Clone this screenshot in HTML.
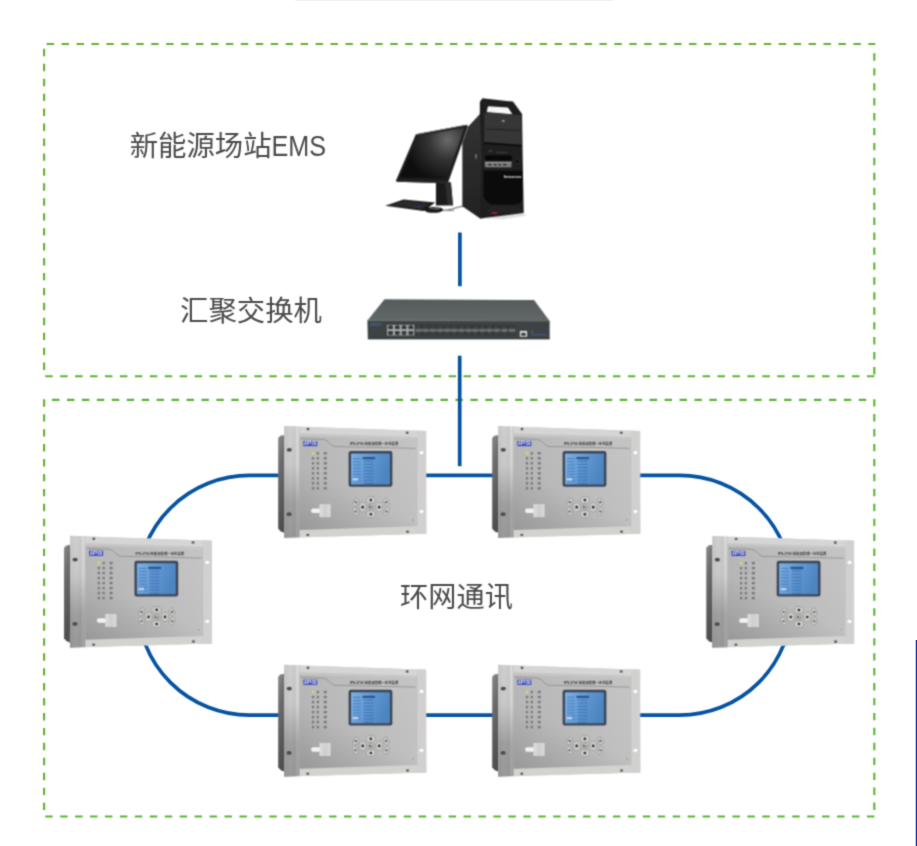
<!DOCTYPE html>
<html lang="zh-CN">
<head>
<meta charset="utf-8">
<title>新能源场站EMS 环网通讯</title>
<style>
html,body{margin:0;padding:0;background:#fff;}
body{width:917px;height:846px;overflow:hidden;position:relative;font-family:"Liberation Sans","Noto Sans CJK SC",sans-serif;}
svg{position:absolute;left:0;top:0;display:block;}
.lbl{font-family:"Liberation Sans","Noto Sans CJK SC",sans-serif;font-size:28.7px;font-weight:400;fill:#4b4b4b;}
</style>
</head>
<body>
<svg width="917" height="846" viewBox="0 0 917 846">
<defs>

<filter id="soft0" x="-3%" y="-3%" width="106%" height="106%" color-interpolation-filters="sRGB"><feConvolveMatrix order="3" kernelMatrix="0.0256 0.1088 0.0256 0.1088 0.4624 0.1088 0.0256 0.1088 0.0256" divisor="1" edgeMode="none" preserveAlpha="false"/></filter>
<filter id="soft" x="-3%" y="-3%" width="106%" height="106%" color-interpolation-filters="sRGB"><feConvolveMatrix order="3" kernelMatrix="0.0625 0.1250 0.0625 0.1250 0.2500 0.1250 0.0625 0.1250 0.0625" divisor="1" edgeMode="none" preserveAlpha="false"/></filter>
<filter id="soft2" x="-3%" y="-3%" width="106%" height="106%" color-interpolation-filters="sRGB"><feConvolveMatrix order="3" kernelMatrix="0.0484 0.1232 0.0484 0.1232 0.3136 0.1232 0.0484 0.1232 0.0484" divisor="1" edgeMode="none" preserveAlpha="false"/></filter>
<radialGradient id="scr" gradientUnits="userSpaceOnUse" cx="520" cy="230" r="330">
<stop offset="0" stop-color="#6a6a6a"/><stop offset="0.45" stop-color="#333"/><stop offset="1" stop-color="#0e0e0e"/>
</radialGradient>
<linearGradient id="tside" x1="0" y1="0" x2="0" y2="1">
<stop offset="0" stop-color="#363636"/><stop offset="0.5" stop-color="#2b2b2b"/><stop offset="1" stop-color="#222"/>
</linearGradient>
<linearGradient id="swtop" x1="0" y1="0" x2="0" y2="1">
<stop offset="0" stop-color="#555b5c"/><stop offset="1" stop-color="#626868"/>
</linearGradient>
<linearGradient id="dside" x1="0" y1="0" x2="0.25" y2="1">
<stop offset="0" stop-color="#8a8a8a"/><stop offset="0.35" stop-color="#6c6c6c"/><stop offset="1" stop-color="#4e4e4e"/>
</linearGradient>
<linearGradient id="dflange" x1="0" y1="0" x2="1" y2="0">
<stop offset="0" stop-color="#c6c6c6"/><stop offset="0.4" stop-color="#cfcfcf"/><stop offset="0.7" stop-color="#c8c8c8"/><stop offset="0.86" stop-color="#dddddd"/><stop offset="1" stop-color="#c2c2c2"/>
</linearGradient>
<linearGradient id="dflangeV" x1="0" y1="0" x2="0" y2="1">
<stop offset="0" stop-color="#000" stop-opacity="0"/><stop offset="0.35" stop-color="#000" stop-opacity="0.03"/><stop offset="0.7" stop-color="#000" stop-opacity="0.23"/><stop offset="1" stop-color="#000" stop-opacity="0.26"/>
</linearGradient>
<linearGradient id="dpanel" x1="0" y1="0" x2="1" y2="0">
<stop offset="0" stop-color="#b9b9b9"/><stop offset="1" stop-color="#c4c4c4"/>
</linearGradient>
<linearGradient id="dpanelV" x1="0.6" y1="0" x2="0" y2="1">
<stop offset="0" stop-color="#000" stop-opacity="0"/><stop offset="0.5" stop-color="#000" stop-opacity="0.02"/><stop offset="1" stop-color="#000" stop-opacity="0.18"/>
</linearGradient>
<linearGradient id="dlcd" x1="0" y1="0" x2="1" y2="0.3">
<stop offset="0" stop-color="#7db1e2"/><stop offset="0.5" stop-color="#6199d3"/><stop offset="1" stop-color="#4c85c0"/>
</linearGradient>
<linearGradient id="dport" x1="0" y1="0" x2="1" y2="0">
<stop offset="0" stop-color="#dedede"/><stop offset="0.5" stop-color="#cecece"/><stop offset="1" stop-color="#dadada"/>
</linearGradient>

<g id="dev">
<path d="M44,124 L56,112 L80,108 L80,636 L58,628 L44,612 Z" fill="url(#dside)"/>
<path d="M77,60 L842,86 L843,640 L76,663 Z" fill="#d3d3d3"/>
<path d="M77,60 L160,64 L160,660 L76,663 Z" fill="url(#dflange)"/>
<path d="M77,60 L160,64 L160,660 L76,663 Z" fill="url(#dflangeV)"/>
<path d="M160,64 L842,86 L842,130 L160,112 Z" fill="#d5d5d3"/>
<path d="M160,98 L792,118 L792,130 L160,112 Z" fill="#c6c6c6"/>
<path d="M160,618 L843,598 L843,640 L160,660 Z" fill="#d2d2cf"/>
<path d="M792,85 L842,86 L843,640 L792,641 Z" fill="#d2cfcf"/>
<path d="M788,126 L794,126 L794,602 L788,602 Z" fill="#b6b6b6"/>
<path d="M160,112 L792,130 L792,600 L160,620 Z" fill="url(#dpanel)"/>
<path d="M160,112 L792,130 L792,600 L160,620 Z" fill="url(#dpanelV)"/>
<path d="M165,128 L290,132 C315,134 325,168 350,170 L785,180" stroke="#8e8e8e" stroke-width="4.5" fill="none"/>
<ellipse cx="205" cy="76" rx="8" ry="7" fill="#5a5a5a"/>
<ellipse cx="740" cy="96" rx="8" ry="7" fill="#5a5a5a"/>
<ellipse cx="204" cy="647" rx="8" ry="7" fill="#5a5a5a"/>
<ellipse cx="742" cy="630" rx="8" ry="7" fill="#5a5a5a"/>
<ellipse cx="104" cy="188" rx="14" ry="10" fill="#4c4c4c"/>
<ellipse cx="103" cy="535" rx="14" ry="10" fill="#4c4c4c"/>
<ellipse cx="817" cy="203" rx="11" ry="9" fill="#fff"/>
<ellipse cx="817" cy="521" rx="11" ry="9" fill="#fff"/>
<rect x="180" y="140" width="75" height="28" fill="#3a46ad"/>
<text x="184" y="164" font-family="'Liberation Sans',sans-serif" font-size="26" font-weight="bold" font-style="italic" fill="#d5d9ff" textLength="68" lengthAdjust="spacingAndGlyphs">IPS</text>
<text x="430" y="163" font-family="'Liberation Sans','Noto Sans CJK SC',sans-serif" font-size="17" font-weight="bold" fill="#383838" textLength="262" lengthAdjust="spacingAndGlyphs">IPS-3700 新能源管理一体化装置</text>
<rect x="226.0" y="200" width="12" height="13" fill="#dcdc4a"/>
<rect x="252.0" y="200" width="12" height="13" fill="#787878"/>
<rect x="290.0" y="200" width="16" height="13" fill="#787878"/>
<rect x="226.0" y="227" width="12" height="13" fill="#787878"/>
<rect x="252.0" y="227" width="12" height="13" fill="#787878"/>
<rect x="290.0" y="227" width="16" height="13" fill="#787878"/>
<rect x="226.0" y="254" width="12" height="13" fill="#787878"/>
<rect x="252.0" y="254" width="12" height="13" fill="#787878"/>
<rect x="290.0" y="254" width="16" height="13" fill="#787878"/>
<rect x="226.0" y="281" width="12" height="13" fill="#787878"/>
<rect x="252.0" y="281" width="12" height="13" fill="#787878"/>
<rect x="290.0" y="281" width="16" height="13" fill="#787878"/>
<rect x="226.0" y="308" width="12" height="13" fill="#787878"/>
<rect x="252.0" y="308" width="12" height="13" fill="#787878"/>
<rect x="290.0" y="308" width="16" height="13" fill="#787878"/>
<rect x="226.0" y="335" width="12" height="13" fill="#787878"/>
<rect x="252.0" y="335" width="12" height="13" fill="#787878"/>
<rect x="290.0" y="335" width="16" height="13" fill="#787878"/>
<rect x="226.0" y="362" width="12" height="13" fill="#787878"/>
<rect x="252.0" y="362" width="12" height="13" fill="#787878"/>
<rect x="290.0" y="362" width="16" height="13" fill="#787878"/>
<rect x="226.0" y="389" width="12" height="13" fill="#787878"/>
<rect x="252.0" y="389" width="12" height="13" fill="#787878"/>
<rect x="290.0" y="389" width="16" height="13" fill="#787878"/>
<rect x="424" y="194" width="236" height="193" rx="12" fill="#3c4556"/>
<rect x="437" y="207" width="210" height="168" rx="5" fill="url(#dlcd)"/>
<rect x="498" y="226" width="70" height="13" rx="6" fill="#2e5590"/>
<rect x="448" y="232" width="40" height="7" fill="#3c6cb0" opacity="0.55"/>
<rect x="505" y="246" width="52" height="7" fill="#3566aa" opacity="0.6"/>
<rect x="448" y="249" width="40" height="7" fill="#3c6cb0" opacity="0.55"/>
<rect x="505" y="263" width="52" height="7" fill="#3566aa" opacity="0.6"/>
<rect x="448" y="266" width="40" height="7" fill="#3c6cb0" opacity="0.55"/>
<rect x="505" y="280" width="52" height="7" fill="#3566aa" opacity="0.6"/>
<rect x="448" y="283" width="40" height="7" fill="#3c6cb0" opacity="0.55"/>
<rect x="505" y="297" width="52" height="7" fill="#3566aa" opacity="0.6"/>
<rect x="448" y="300" width="40" height="7" fill="#3c6cb0" opacity="0.55"/>
<rect x="505" y="314" width="52" height="7" fill="#3566aa" opacity="0.6"/>
<rect x="448" y="317" width="40" height="7" fill="#3c6cb0" opacity="0.55"/>
<rect x="505" y="331" width="52" height="7" fill="#3566aa" opacity="0.6"/>
<rect x="448" y="334" width="40" height="7" fill="#3c6cb0" opacity="0.55"/>
<rect x="505" y="348" width="52" height="7" fill="#3566aa" opacity="0.6"/>
<rect x="448" y="351" width="40" height="7" fill="#3c6cb0" opacity="0.55"/>
<rect x="505" y="365" width="52" height="7" fill="#3566aa" opacity="0.6"/>
<rect x="446" y="340" width="30" height="14" fill="#cfe4fa" opacity="0.8"/>
<rect x="222" y="504" width="52" height="24" rx="10" fill="#f2f2f2"/>
<rect x="267" y="481" width="60" height="70" fill="url(#dport)"/>
<ellipse cx="544" cy="459" rx="25" ry="19" fill="#cbcbc9" stroke="#8a8a8a" stroke-width="3"/>
<circle cx="544" cy="459" r="7" fill="#2b2b2b"/>
<ellipse cx="544" cy="535" rx="25" ry="19" fill="#cbcbc9" stroke="#8a8a8a" stroke-width="3"/>
<circle cx="544" cy="535" r="7" fill="#2b2b2b"/>
<ellipse cx="500" cy="497" rx="19" ry="25" fill="#cbcbc9" stroke="#8a8a8a" stroke-width="3"/>
<circle cx="500" cy="497" r="7" fill="#2b2b2b"/>
<ellipse cx="589" cy="497" rx="19" ry="25" fill="#cbcbc9" stroke="#8a8a8a" stroke-width="3"/>
<circle cx="589" cy="497" r="7" fill="#2b2b2b"/>
<ellipse cx="544" cy="497" rx="17" ry="13" fill="#cfcfcd" stroke="#8a8a8a" stroke-width="3"/>
<text x="532" y="502" font-family="'Liberation Sans','Noto Sans CJK SC',sans-serif" font-size="12" font-weight="bold" fill="#444">确认</text>
<ellipse cx="462" cy="470" rx="13" ry="23" transform="rotate(18 462 470)" fill="#cbcbc9" stroke="#8a8a8a" stroke-width="3"/>
<circle cx="462" cy="470" r="5.5" fill="#555"/>
<ellipse cx="461" cy="520" rx="13" ry="23" transform="rotate(-18 461 520)" fill="#cbcbc9" stroke="#8a8a8a" stroke-width="3"/>
<circle cx="461" cy="520" r="5.5" fill="#555"/>
<ellipse cx="627" cy="470" rx="13" ry="23" transform="rotate(-18 627 470)" fill="#cbcbc9" stroke="#8a8a8a" stroke-width="3"/>
<circle cx="627" cy="470" r="5.5" fill="#555"/>
<ellipse cx="628" cy="520" rx="13" ry="23" transform="rotate(18 628 520)" fill="#cbcbc9" stroke="#8a8a8a" stroke-width="3"/>
<circle cx="628" cy="520" r="5.5" fill="#555"/>
<circle cx="771" cy="566" r="3" fill="#777"/>
</g>
</defs>
<rect width="917" height="846" fill="#fff"/>
<rect x="295" y="0" width="318" height="1" fill="#f0f0f0"/>
<rect x="915" y="640" width="1" height="206" fill="#1a3c9c" opacity="0.28"/>
<rect x="916" y="640" width="1" height="206" fill="#17389a"/>
<g fill="none" stroke="#59b430" stroke-width="2.1" stroke-dasharray="7.4 7.54" filter="url(#soft0)">
<path d="M46.65,44H875.3"/>
<path d="M874.3,53.25V375.5"/>
<path d="M45.25,376.3H875"/>
<path d="M44.1,48.85V372"/>
<path d="M52.05,399.9H870"/>
<path d="M874.3,399.15V812"/>
<path d="M44.1,399.25V812"/>
<path d="M45.25,816.5H875"/>
</g>
<g fill="none" stroke="#0653a2" stroke-width="3.7" filter="url(#soft0)">
<path d="M459.9,232.5V286.2"/>
<path d="M459.7,355.7V466.2"/>
<rect x="137.5" y="475.4" width="654.2" height="239.8" rx="112" ry="112"/>
</g>
<g filter="url(#soft0)">
<text class="lbl" x="129.7" y="156" style="font-size:28.4px">新能源场站</text><text class="lbl" x="271.4" y="155.9" style="font-size:30.4px" textLength="54.6" lengthAdjust="spacingAndGlyphs">EMS</text>
<text class="lbl" x="180" y="321.1" style="font-size:28.4px">汇聚交换机</text>
<text class="lbl" x="400.1" y="606.6" style="font-size:28.2px">环网通讯</text>
</g>
<g filter="url(#soft)">
<g transform="translate(380,110) scale(0.13004)">
<path d="M430,555 L545,555 L562,735 L430,735 Z" fill="#1b1b1b"/>
<path d="M500,560 L545,560 L560,730 L520,730 Z" fill="#2e2e2e"/>
<path d="M470,772 C540,775 590,745 645,738" stroke="#222" stroke-width="6" fill="none"/>
<path d="M40,737 L180,688 L425,712 L335,777 Z" fill="#1a1a1a"/>
<path d="M70,735 L185,698 L390,718 L320,762 Z" fill="#2a2a2a"/>
<path d="M250,745 L300,732 L330,740 L290,758 Z" fill="#283352"/>
<ellipse cx="412" cy="768" rx="74" ry="22" fill="#161616"/>
<ellipse cx="420" cy="762" rx="40" ry="9" fill="#8a8a8a"/>
<ellipse cx="405" cy="772" rx="55" ry="12" fill="#1c1c1c"/>
<rect x="490" y="768" width="80" height="10" fill="#9a9a9a"/>
<path d="M276,186 L668,114 L676,126 L522,564 L128,552 L124,540 Z" fill="#1e1e1e"/>
<path d="M292,202 L650,134 L512,528 L150,520 Z" fill="url(#scr)"/>
<path d="M276,186 L668,114 L670,120 L282,194 Z" fill="#555"/>
<path d="M128,540 L520,552 L522,564 L128,552 Z" fill="#2c2c2c"/>
</g>
<g transform="translate(460,90) scale(0.08278)">
<path d="M300,1552 L770,1492 L800,1520 L520,1560 Z" fill="#c8c8c8" opacity="0.6"/>
<path d="M250,120 L285,120 L285,1550 L240,1550 L28,1405 L28,640 L100,440 L240,290 Z" fill="url(#tside)"/>
<path d="M270,100 L640,140 L750,290 L757,800 L770,1487 L240,1552 L262,800 L240,290 L240,150 Z" fill="#1e1e1e"/>
<path d="M338,196 L580,211 L634,294 L322,265 Z" fill="#f6f6f6"/>
<path d="M295,275 L742,302 L745,670 L292,640 Z" fill="#363636"/>
<path d="M320,395 L720,415" stroke="#3c3c3c" stroke-width="10" fill="none"/>
<path d="M320,470 L720,488" stroke="#1a1a1a" stroke-width="10" fill="none"/>
<rect x="505" y="362" width="34" height="24" fill="#8c8c8c"/>
<path d="M290,640 L745,672" stroke="#0c0c0c" stroke-width="22" fill="none"/>
<path d="M292,660 L745,690 L750,960 L288,960 Z" fill="#1f1f1f"/>
<path d="M340,730 L390,722 L390,745 L340,752 Z" fill="#3a3a3a"/>
<path d="M440,742 L570,748 L570,765 L440,760 Z" fill="#3a3a3a"/>
<rect x="305" y="790" width="320" height="60" fill="#080808"/>
<path d="M180,780 L200,770 L205,830 L185,825 Z" fill="#777"/>
<rect x="300" y="868" width="322" height="66" fill="#7d7d7d"/>
<rect x="300" y="868" width="322" height="12" fill="#a5a5a5"/>
<rect x="340" y="893" width="40" height="16" fill="#222"/><rect x="410" y="893" width="30" height="16" fill="#222"/><rect x="465" y="893" width="30" height="16" fill="#222"/><rect x="520" y="893" width="40" height="16" fill="#222"/>
<circle cx="690" cy="862" r="26" fill="#0a0a0a" stroke="#3a3a3a" stroke-width="8"/>
<path d="M285,975 L755,975 L757,1290 C740,1370 700,1385 640,1385 L410,1385 C340,1385 290,1330 285,1260 Z" fill="#0b0b0b"/>
<path d="M380,1400 L700,1400 L760,1480 L300,1500 Z" fill="#222"/>
<rect x="382" y="1476" width="68" height="22" fill="#b01630"/>
<text x="528" y="1058" font-family="'Liberation Sans',sans-serif" font-weight="bold" font-size="52" fill="#f2f2f2" textLength="212" lengthAdjust="spacingAndGlyphs">lenovo</text>
</g>
</g>
<g filter="url(#soft)">
<g transform="translate(360,290) scale(0.10905)">
<path d="M225,85 L1596.15,92 L1739.15,285 L68,280 Z" fill="url(#swtop)"/>
<path d="M68,280 L1739.15,285 L1739.15,450 L72,450 Z" fill="#3d4244"/>
<path d="M68,280 L1739.15,285" stroke="#6b7272" stroke-width="6" fill="none"/>
<path d="M72,448 L1739.15,448" stroke="#2a2d2e" stroke-width="8" fill="none"/>
<text x="95" y="330" font-family="'Liberation Sans',sans-serif" font-size="24" font-weight="bold" font-style="italic" fill="#4f7fc0" opacity="0.75" textLength="100" lengthAdjust="spacingAndGlyphs">SWITCH</text>
<rect x="248" y="320" width="250" height="96" fill="#a9adad"/>
<rect x="258" y="329" width="44" height="30" fill="#35383a"/>
<rect x="270" y="323" width="20" height="9" fill="#35383a"/>
<rect x="258" y="377" width="44" height="30" fill="#35383a"/>
<rect x="270" y="404" width="20" height="9" fill="#35383a"/>
<rect x="320" y="329" width="44" height="30" fill="#35383a"/>
<rect x="332" y="323" width="20" height="9" fill="#35383a"/>
<rect x="320" y="377" width="44" height="30" fill="#35383a"/>
<rect x="332" y="404" width="20" height="9" fill="#35383a"/>
<rect x="382" y="329" width="44" height="30" fill="#35383a"/>
<rect x="394" y="323" width="20" height="9" fill="#35383a"/>
<rect x="382" y="377" width="44" height="30" fill="#35383a"/>
<rect x="394" y="404" width="20" height="9" fill="#35383a"/>
<rect x="444" y="329" width="44" height="30" fill="#35383a"/>
<rect x="456" y="323" width="20" height="9" fill="#35383a"/>
<rect x="444" y="377" width="44" height="30" fill="#35383a"/>
<rect x="456" y="404" width="20" height="9" fill="#35383a"/>
<rect x="510" y="322" width="58" height="94" fill="#2a2d2f"/>
<rect x="511" y="356" width="56" height="26" fill="#8b8f8f"/>
<rect x="520" y="362" width="14" height="14" fill="#4a4d4e"/><rect x="544" y="362" width="14" height="14" fill="#4a4d4e"/>
<rect x="515" y="327" width="48" height="24" fill="#3f4344"/>
<rect x="515" y="388" width="48" height="24" fill="#3f4344"/>
<rect x="574" y="322" width="58" height="94" fill="#2a2d2f"/>
<rect x="575" y="356" width="56" height="26" fill="#8b8f8f"/>
<rect x="584" y="362" width="14" height="14" fill="#4a4d4e"/><rect x="608" y="362" width="14" height="14" fill="#4a4d4e"/>
<rect x="579" y="327" width="48" height="24" fill="#3f4344"/>
<rect x="579" y="388" width="48" height="24" fill="#3f4344"/>
<rect x="640" y="322" width="58" height="94" fill="#2a2d2f"/>
<rect x="641" y="356" width="56" height="26" fill="#8b8f8f"/>
<rect x="650" y="362" width="14" height="14" fill="#4a4d4e"/><rect x="674" y="362" width="14" height="14" fill="#4a4d4e"/>
<rect x="645" y="327" width="48" height="24" fill="#3f4344"/>
<rect x="645" y="388" width="48" height="24" fill="#3f4344"/>
<rect x="706" y="322" width="58" height="94" fill="#2a2d2f"/>
<rect x="707" y="356" width="56" height="26" fill="#8b8f8f"/>
<rect x="716" y="362" width="14" height="14" fill="#4a4d4e"/><rect x="740" y="362" width="14" height="14" fill="#4a4d4e"/>
<rect x="711" y="327" width="48" height="24" fill="#3f4344"/>
<rect x="711" y="388" width="48" height="24" fill="#3f4344"/>
<rect x="770" y="322" width="58" height="94" fill="#2a2d2f"/>
<rect x="771" y="356" width="56" height="26" fill="#8b8f8f"/>
<rect x="780" y="362" width="14" height="14" fill="#4a4d4e"/><rect x="804" y="362" width="14" height="14" fill="#4a4d4e"/>
<rect x="775" y="327" width="48" height="24" fill="#3f4344"/>
<rect x="775" y="388" width="48" height="24" fill="#3f4344"/>
<rect x="834" y="322" width="58" height="94" fill="#2a2d2f"/>
<rect x="835" y="356" width="56" height="26" fill="#8b8f8f"/>
<rect x="844" y="362" width="14" height="14" fill="#4a4d4e"/><rect x="868" y="362" width="14" height="14" fill="#4a4d4e"/>
<rect x="839" y="327" width="48" height="24" fill="#3f4344"/>
<rect x="839" y="388" width="48" height="24" fill="#3f4344"/>
<rect x="900" y="322" width="58" height="94" fill="#2a2d2f"/>
<rect x="901" y="356" width="56" height="26" fill="#8b8f8f"/>
<rect x="910" y="362" width="14" height="14" fill="#4a4d4e"/><rect x="934" y="362" width="14" height="14" fill="#4a4d4e"/>
<rect x="905" y="327" width="48" height="24" fill="#3f4344"/>
<rect x="905" y="388" width="48" height="24" fill="#3f4344"/>
<rect x="966" y="322" width="58" height="94" fill="#2a2d2f"/>
<rect x="967" y="356" width="56" height="26" fill="#8b8f8f"/>
<rect x="976" y="362" width="14" height="14" fill="#4a4d4e"/><rect x="1000" y="362" width="14" height="14" fill="#4a4d4e"/>
<rect x="971" y="327" width="48" height="24" fill="#3f4344"/>
<rect x="971" y="388" width="48" height="24" fill="#3f4344"/>
<rect x="1028" y="322" width="58" height="94" fill="#2a2d2f"/>
<rect x="1029" y="356" width="56" height="26" fill="#8b8f8f"/>
<rect x="1038" y="362" width="14" height="14" fill="#4a4d4e"/><rect x="1062" y="362" width="14" height="14" fill="#4a4d4e"/>
<rect x="1033" y="327" width="48" height="24" fill="#3f4344"/>
<rect x="1033" y="388" width="48" height="24" fill="#3f4344"/>
<rect x="1094" y="322" width="58" height="94" fill="#2a2d2f"/>
<rect x="1095" y="356" width="56" height="26" fill="#8b8f8f"/>
<rect x="1104" y="362" width="14" height="14" fill="#4a4d4e"/><rect x="1128" y="362" width="14" height="14" fill="#4a4d4e"/>
<rect x="1099" y="327" width="48" height="24" fill="#3f4344"/>
<rect x="1099" y="388" width="48" height="24" fill="#3f4344"/>
<rect x="1158" y="322" width="58" height="94" fill="#2a2d2f"/>
<rect x="1159" y="356" width="56" height="26" fill="#8b8f8f"/>
<rect x="1168" y="362" width="14" height="14" fill="#4a4d4e"/><rect x="1192" y="362" width="14" height="14" fill="#4a4d4e"/>
<rect x="1163" y="327" width="48" height="24" fill="#3f4344"/>
<rect x="1163" y="388" width="48" height="24" fill="#3f4344"/>
<rect x="1224" y="322" width="58" height="94" fill="#2a2d2f"/>
<rect x="1225" y="356" width="56" height="26" fill="#8b8f8f"/>
<rect x="1234" y="362" width="14" height="14" fill="#4a4d4e"/><rect x="1258" y="362" width="14" height="14" fill="#4a4d4e"/>
<rect x="1229" y="327" width="48" height="24" fill="#3f4344"/>
<rect x="1229" y="388" width="48" height="24" fill="#3f4344"/>
<rect x="1296" y="322" width="58" height="94" fill="#2a2d2f"/>
<rect x="1297" y="356" width="56" height="26" fill="#8b8f8f"/>
<rect x="1306" y="362" width="14" height="14" fill="#4a4d4e"/><rect x="1330" y="362" width="14" height="14" fill="#4a4d4e"/>
<rect x="1301" y="327" width="48" height="24" fill="#3f4344"/>
<rect x="1301" y="388" width="48" height="24" fill="#3f4344"/>
<rect x="1365" y="322" width="58" height="94" fill="#2a2d2f"/>
<rect x="1366" y="356" width="56" height="26" fill="#8b8f8f"/>
<rect x="1375" y="362" width="14" height="14" fill="#4a4d4e"/><rect x="1399" y="362" width="14" height="14" fill="#4a4d4e"/>
<rect x="1370" y="327" width="48" height="24" fill="#3f4344"/>
<rect x="1370" y="388" width="48" height="24" fill="#3f4344"/>
<rect x="1466.15" y="375" width="66" height="54" fill="#e6e6e6"/>
<rect x="1478.15" y="392" width="42" height="28" fill="#3a3d3e"/>
<rect x="1571.15" y="404" width="140" height="12" fill="#3a5f9a" opacity="0.8"/>
<rect x="1571.15" y="372" width="14" height="22" fill="#5a6a7a" opacity="0.8"/>
</g>
</g>
<g filter="url(#soft2)">
<use href="#dev" transform="translate(270,415) scale(0.18539)"/>
<use href="#dev" transform="translate(484,415) scale(0.18539)"/>
<use href="#dev" transform="translate(270,653.75) scale(0.18539)"/>
<use href="#dev" transform="translate(484,653.75) scale(0.18539)"/>
<use href="#dev" transform="translate(55.85,524.75) scale(0.18539)"/>
<use href="#dev" transform="translate(698.1,524.85) scale(0.18539)"/>
</g>
</svg>
</body>
</html>
